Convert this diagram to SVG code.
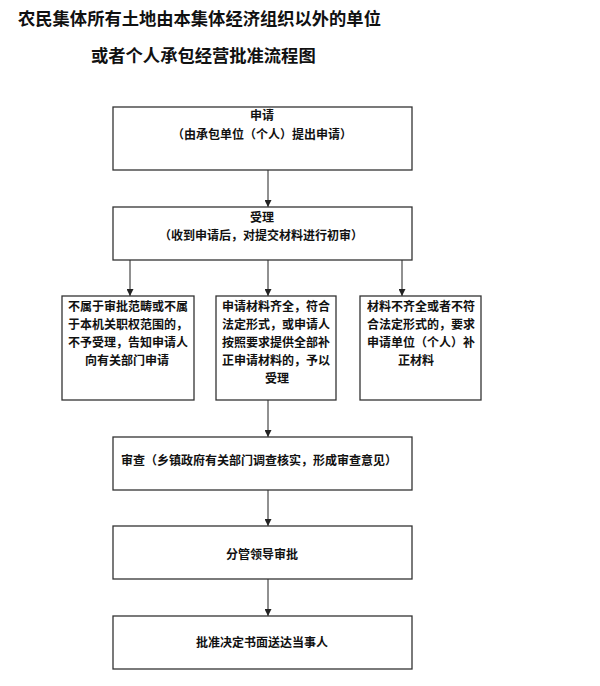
<svg xmlns="http://www.w3.org/2000/svg" width="600" height="686" viewBox="0 0 600 686">
  <defs>
    <marker id="arrow" viewBox="0 0 8 8" refX="8" refY="4" markerWidth="7" markerHeight="7" markerUnits="userSpaceOnUse" orient="auto">
      <path d="M0,0 L8,4 L0,8 z" fill="#222"/>
    </marker>
  </defs>
  <style>
    text { font-family: "Noto Sans CJK SC", "Noto Sans", sans-serif; font-weight: bold; fill: #111; }
    .title { font-size: 17.3px; }
    .t { font-size: 12px; }
    .c { text-anchor: middle; }
    .box { fill: #fff; stroke: #333; stroke-width: 1.3; }
    .conn { stroke: #222; stroke-width: 1; fill: none; marker-end: url(#arrow); }
  </style>
  <rect width="600" height="686" fill="#fff"/>

  <g id="title">
    <text class="title" x="18" y="24.5">农民集体所有土地由本集体经济组织以外的单位</text>
    <text class="title" x="91" y="61.5">或者个人承包经营批准流程图</text>
  </g>

  <g id="connectors">
    <line class="conn" x1="268" y1="170" x2="268" y2="207"/>
    <line class="conn" x1="130" y1="260" x2="130" y2="296"/>
    <line class="conn" x1="268" y1="260" x2="268" y2="296"/>
    <line class="conn" x1="402" y1="260" x2="402" y2="296"/>
    <line class="conn" x1="268" y1="400" x2="268" y2="437"/>
    <line class="conn" x1="268" y1="490" x2="268" y2="526"/>
    <line class="conn" x1="268" y1="579" x2="268" y2="616"/>
  </g>

  <g id="apply">
    <rect class="box" x="113" y="107" width="299" height="63"/>
    <text class="t c" x="262" y="119.5">申请</text>
    <text class="t c" x="262" y="138.5">（由承包单位（个人）提出申请）</text>
  </g>

  <g id="accept">
    <rect class="box" x="113" y="207" width="299" height="53"/>
    <text class="t c" x="262" y="221.5">受理</text>
    <text class="t c" x="261" y="239.5">（收到申请后，对提交材料进行初审）</text>
  </g>

  <g id="reject">
    <rect class="box" x="62" y="296" width="132" height="104"/>
    <text class="t c" x="128" y="310.5">不属于审批范畴或不属</text>
    <text class="t c" x="128" y="328.5">于本机关职权范围的，</text>
    <text class="t c" x="128" y="346.5">不予受理，告知申请人</text>
    <text class="t c" x="127" y="364.5">向有关部门申请</text>
  </g>

  <g id="complete">
    <rect class="box" x="216" y="296" width="120" height="104"/>
    <text class="t c" x="276" y="310.5">申请材料齐全，符合</text>
    <text class="t c" x="276" y="328.5">法定形式，或申请人</text>
    <text class="t c" x="276" y="346.5">按照要求提供全部补</text>
    <text class="t c" x="276" y="364.5">正申请材料的，予以</text>
    <text class="t c" x="277" y="382.5">受理</text>
  </g>

  <g id="incomplete">
    <rect class="box" x="360" y="296" width="121" height="104"/>
    <text class="t c" x="421" y="310.5">材料不齐全或者不符</text>
    <text class="t c" x="421" y="328.5">合法定形式的，要求</text>
    <text class="t c" x="421" y="346.5">申请单位（个人）补</text>
    <text class="t c" x="416" y="364.5">正材料</text>
  </g>

  <g id="review">
    <rect class="box" x="113" y="437" width="299" height="53"/>
    <text class="t" x="121" y="464.5">审查（乡镇政府有关部门调查核实，形成审查意见）</text>
  </g>

  <g id="approve">
    <rect class="box" x="113" y="526" width="299" height="53"/>
    <text class="t c" x="262" y="558.5">分管领导审批</text>
  </g>

  <g id="deliver">
    <rect class="box" x="113" y="616" width="299" height="53"/>
    <text class="t c" x="262" y="646.5">批准决定书面送达当事人</text>
  </g>
</svg>
